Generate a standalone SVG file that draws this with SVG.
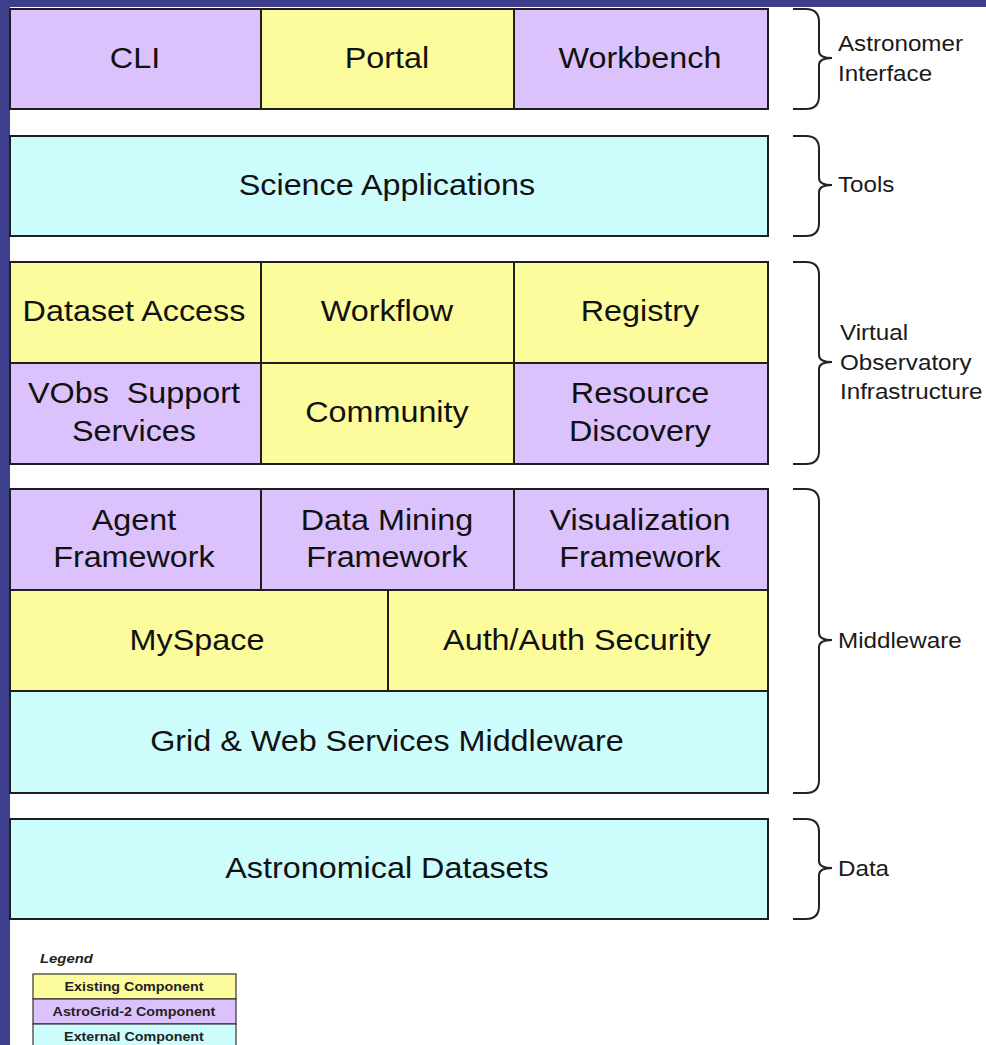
<svg xmlns="http://www.w3.org/2000/svg" width="986" height="1045" viewBox="0 0 986 1045">
  <style>
    .box { stroke: #1e1e1e; stroke-width: 2; }
    .ag { fill: #dcc2fc; }
    .ex { fill: #fcfc9c; }
    .ext { fill: #ccfcfc; }
    /* wide-set sans: glyphs stretched horizontally around their own centre */
    .t { font-family: "Liberation Sans", Arial, sans-serif; font-size: 29px; fill: #111; text-anchor: middle; white-space: pre;
         transform-box: fill-box; transform-origin: center; transform: scaleX(1.115); }
    .lbl { font-family: "Liberation Sans", Arial, sans-serif; font-size: 22px; fill: #1a1a1a;
           transform-box: fill-box; transform-origin: left center; transform: scaleX(1.1); }
    .brace { fill: none; stroke: #222; stroke-width: 2; }
    .lg { font-family: "Liberation Sans", Arial, sans-serif; font-size: 13px; font-weight: bold; fill: #222; text-anchor: middle;
          transform-box: fill-box; transform-origin: center; transform: scaleX(1.1); }
    .lgt { font-family: "Liberation Sans", Arial, sans-serif; font-size: 13.5px; font-weight: bold; font-style: italic; fill: #222;
           transform-box: fill-box; transform-origin: left center; transform: scaleX(1.1); }
  </style>

  <!-- page background with slide frame -->
  <rect x="0" y="0" width="986" height="1045" fill="#ffffff"/>
  <rect x="0" y="0" width="986" height="7" fill="#3d3f8c"/>
  <rect x="0" y="0" width="10" height="1045" fill="#3d3f8c"/>

  <!-- Astronomer Interface layer -->
  <g id="cli"><rect class="box ag" x="10" y="9" width="251" height="100"/><text class="t" x="135" y="68">CLI</text></g>
  <g id="portal"><rect class="box ex" x="261" y="9" width="253" height="100"/><text class="t" x="387" y="68">Portal</text></g>
  <g id="workbench"><rect class="box ag" x="514" y="9" width="254" height="100"/><text class="t" x="640" y="68">Workbench</text></g>

  <!-- Tools layer -->
  <g id="science-applications"><rect class="box ext" x="10" y="136" width="758" height="100"/><text class="t" x="387" y="195">Science Applications</text></g>

  <!-- Virtual Observatory Infrastructure layer -->
  <g id="dataset-access"><rect class="box ex" x="10" y="262" width="251" height="101"/><text class="t" x="134" y="321">Dataset Access</text></g>
  <g id="workflow"><rect class="box ex" x="261" y="262" width="253" height="101"/><text class="t" x="387" y="321">Workflow</text></g>
  <g id="registry"><rect class="box ex" x="514" y="262" width="254" height="101"/><text class="t" x="640" y="321">Registry</text></g>
  <g id="vobs-support"><rect class="box ag" x="10" y="363" width="251" height="101"/><text class="t" x="134" y="403">VObs  Support</text><text class="t" x="134" y="441">Services</text></g>
  <g id="community"><rect class="box ex" x="261" y="363" width="253" height="101"/><text class="t" x="387" y="422">Community</text></g>
  <g id="resource-discovery"><rect class="box ag" x="514" y="363" width="254" height="101"/><text class="t" x="640" y="403">Resource</text><text class="t" x="640" y="441">Discovery</text></g>

  <!-- Middleware layer -->
  <g id="agent-framework"><rect class="box ag" x="10" y="489" width="251" height="101"/><text class="t" x="134" y="530">Agent</text><text class="t" x="134" y="567">Framework</text></g>
  <g id="data-mining-framework"><rect class="box ag" x="261" y="489" width="253" height="101"/><text class="t" x="387" y="530">Data Mining</text><text class="t" x="387" y="567">Framework</text></g>
  <g id="visualization-framework"><rect class="box ag" x="514" y="489" width="254" height="101"/><text class="t" x="640" y="530">Visualization</text><text class="t" x="640" y="567">Framework</text></g>
  <g id="myspace"><rect class="box ex" x="10" y="590" width="378" height="101"/><text class="t" x="197" y="650">MySpace</text></g>
  <g id="auth-security"><rect class="box ex" x="388" y="590" width="380" height="101"/><text class="t" x="577" y="650">Auth/Auth Security</text></g>
  <g id="grid-web-services"><rect class="box ext" x="10" y="691" width="758" height="102"/><text class="t" x="387" y="751">Grid &amp; Web Services Middleware</text></g>

  <!-- Data layer -->
  <g id="astronomical-datasets"><rect class="box ext" x="10" y="819" width="758" height="100"/><text class="t" x="387" y="878">Astronomical Datasets</text></g>

  <!-- layer braces -->
  <g id="connectors">
    <path class="brace" d="M793,9 H806 Q819,9 819,22 V51 Q819,58 832,58 Q819,58 819,65 V96 Q819,109 806,109 H793"/>
    <path class="brace" d="M793,136 H806 Q819,136 819,149 V178 Q819,185 832,185 Q819,185 819,192 V223 Q819,236 806,236 H793"/>
    <path class="brace" d="M793,262 H806 Q819,262 819,275 V355 Q819,362 832,362 Q819,362 819,369 V451 Q819,464 806,464 H793"/>
    <path class="brace" d="M793,489 H806 Q819,489 819,502 V633 Q819,640 832,640 Q819,640 819,647 V780 Q819,793 806,793 H793"/>
    <path class="brace" d="M793,819 H806 Q819,819 819,832 V861 Q819,868 832,868 Q819,868 819,875 V906 Q819,919 806,919 H793"/>
  </g>
  <!-- layer names -->
  <g id="layer-labels">
    <text class="lbl" x="838" y="51">Astronomer</text>
    <text class="lbl" x="838" y="81">Interface</text>
    <text class="lbl" x="838" y="192">Tools</text>
    <text class="lbl" x="840" y="340">Virtual</text>
    <text class="lbl" x="840" y="370">Observatory</text>
    <text class="lbl" x="840" y="399">Infrastructure</text>
    <text class="lbl" x="838" y="648">Middleware</text>
    <text class="lbl" x="838" y="876">Data</text>
  </g>

  <!-- legend -->
  <g id="legend">
    <text class="lgt" x="40" y="963">Legend</text>
    <rect x="33" y="974" width="203" height="25" fill="#fcfc9c" stroke="#333" stroke-width="1.2"/>
    <text class="lg" x="134" y="991">Existing Component</text>
    <rect x="33" y="999" width="203" height="25" fill="#dcc2fc" stroke="#333" stroke-width="1.2"/>
    <text class="lg" x="134" y="1016">AstroGrid-2 Component</text>
    <rect x="33" y="1024" width="203" height="25" fill="#ccfcfc" stroke="#333" stroke-width="1.2"/>
    <text class="lg" x="134" y="1041">External Component</text>
  </g>
</svg>
